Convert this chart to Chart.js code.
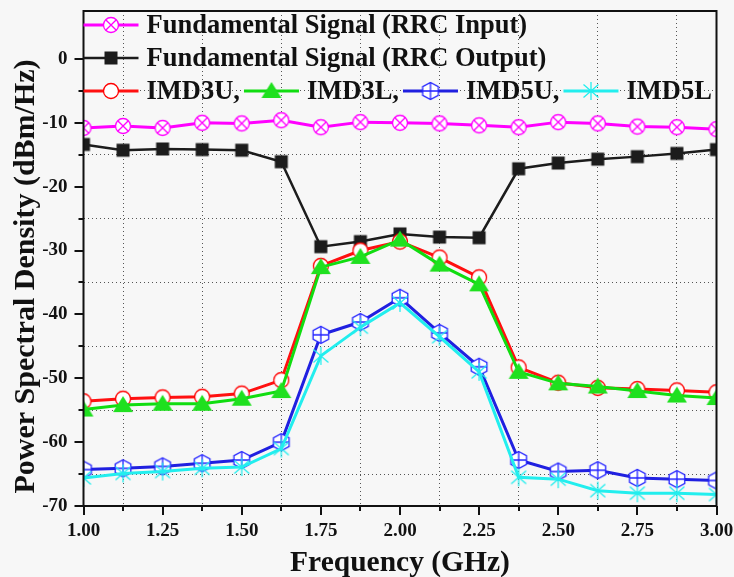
<!DOCTYPE html>
<html>
<head>
<meta charset="utf-8">
<script src="https://cdn.jsdelivr.net/npm/chart.js@4/dist/chart.umd.min.js"></script>
<style>
  html, body { margin: 0; padding: 0; background: #f7f7f7; }
  canvas { display: block; }
</style>
</head>
<body>
<canvas id="myChart" width="734" height="577"></canvas>
<script>
// frequency points (GHz)
var freq = [1.000, 1.125, 1.250, 1.375, 1.500, 1.625, 1.750, 1.875, 2.000,
            2.125, 2.250, 2.375, 2.500, 2.625, 2.750, 2.875, 3.000];

// power spectral density (dBm/Hz)
var rrcInput  = [-10.8, -10.5, -10.8, -10.0, -10.1, -9.6, -10.7, -9.9, -10.0, -10.1, -10.4, -10.7, -9.9, -10.1, -10.6, -10.7, -11.0];
var rrcOutput = [-13.4, -14.3, -14.1, -14.2, -14.3, -16.1, -29.4, -28.6, -27.4, -27.9, -28.0, -17.2, -16.3, -15.7, -15.3, -14.8, -14.2];
var imd3u     = [-53.6, -53.2, -53.0, -52.9, -52.4, -50.3, -32.4, -30.0, -28.6, -31.1, -34.2, -48.3, -50.7, -51.5, -51.7, -51.9, -52.2];
var imd3l     = [-54.9, -54.2, -54.0, -54.0, -53.2, -52.0, -32.6, -31.0, -28.3, -32.2, -35.3, -49.0, -50.8, -51.3, -52.0, -52.7, -53.1];
var imd5u     = [-64.3, -64.1, -63.8, -63.3, -62.8, -60.0, -43.2, -41.2, -37.4, -42.9, -48.2, -62.8, -64.6, -64.4, -65.6, -65.8, -66.0];
var imd5l     = [-65.6, -64.9, -64.6, -64.1, -63.9, -61.0, -46.5, -42.0, -38.2, -43.5, -49.0, -65.5, -65.8, -67.6, -68.0, -68.0, -68.2];

var legendNames = ["Fundamental Signal (RRC Input)", "Fundamental Signal (RRC Output)",
                   "IMD3U,", "IMD3L,", "IMD5U,", "IMD5L"];

var FONT = "'Times New Roman', 'Liberation Serif', serif";

// marker images
function marker(draw) {
  var c = document.createElement("canvas");
  c.width = 26; c.height = 26;
  var g = c.getContext("2d");
  g.translate(13, 13);
  g.lineWidth = 1.3;
  draw(g);
  return c;
}
var mkCrossCircle = marker(function (g) {
  g.fillStyle = "#fff"; g.strokeStyle = "#ff00ff";
  g.beginPath(); g.arc(0, 0, 7.5, 0, Math.PI * 2); g.fill(); g.stroke();
  var d = 7.5 * Math.SQRT1_2;
  g.beginPath(); g.moveTo(-d, -d); g.lineTo(d, d); g.moveTo(-d, d); g.lineTo(d, -d); g.stroke();
});
var mkSquare = marker(function (g) {
  g.fillStyle = "#1c1c1c"; g.fillRect(-6.5, -6.5, 13, 13);
});
var mkCircle = marker(function (g) {
  g.fillStyle = "#fff"; g.strokeStyle = "#ff0000";
  g.beginPath(); g.arc(0, 0, 7.5, 0, Math.PI * 2); g.fill(); g.stroke();
});
var mkTriangle = marker(function (g) {
  g.fillStyle = "#1fe01f";
  g.beginPath(); g.moveTo(0, -9); g.lineTo(10, 7); g.lineTo(-10, 7); g.closePath(); g.fill();
});
var mkHex = marker(function (g) {
  g.fillStyle = "#fff"; g.strokeStyle = "#2020ff";
  g.beginPath();
  g.moveTo(0, -8.5); g.lineTo(7.8, -4.3); g.lineTo(7.8, 4.3);
  g.lineTo(0, 8.5); g.lineTo(-7.8, 4.3); g.lineTo(-7.8, -4.3); g.closePath();
  g.fill(); g.stroke();
  g.beginPath(); g.moveTo(0, -8.5); g.lineTo(0, 8.5); g.moveTo(-7.8, 0); g.lineTo(7.8, 0); g.stroke();
});
var mkStar = marker(function (g) {
  g.strokeStyle = "#22eeee";
  g.beginPath();
  g.moveTo(0, -9); g.lineTo(0, 9);
  g.moveTo(-7.5, -6.5); g.lineTo(7.5, 6.5);
  g.moveTo(-7.5, 6.5); g.lineTo(7.5, -6.5);
  g.stroke();
});

function pts(arr) {
  return arr.map(function (v, i) { return { x: freq[i], y: v }; });
}

function series(label, arr, color, width, img, order) {
  return {
    label: label,
    data: pts(arr),
    borderColor: color,
    backgroundColor: color,
    borderWidth: width,
    pointStyle: img,
    pointRadius: 8,
    tension: 0,
    clip: 0,
    order: order
  };
}

var datasets = [
  series(legendNames[0], rrcInput, "#ff00ff", 3, mkCrossCircle, 6),
  series(legendNames[1], rrcOutput, "#1c1c1c", 2.5, mkSquare, 5),
  series(legendNames[2], imd3u, "#ff1010", 3, mkCircle, 4),
  series(legendNames[3], imd3l, "#10dd10", 3, mkTriangle, 3),
  series(legendNames[4], imd5u, "#2020e0", 3, mkHex, 2),
  series(legendNames[5], imd5l, "#22eeee", 3, mkStar, 1)
];

function isQuarter(v) { return Math.abs(v * 4 - Math.round(v * 4)) < 1e-6; }
function isTen(v) { return Math.abs(v % 10) < 1e-6; }

// box, ticks, titles and legend
var decor = {
  id: "decor",
  afterDraw: function (chart) {
    var ctx = chart.ctx, a = chart.chartArea, x = chart.scales.x, y = chart.scales.y;
    ctx.save();
    ctx.strokeStyle = "#111";
    ctx.lineWidth = 2;
    ctx.beginPath();
    x.ticks.forEach(function (t) {
      var px = Math.round(x.getPixelForValue(t.value));
      var len = isQuarter(t.value) ? 9 : 5;
      ctx.moveTo(px, a.bottom); ctx.lineTo(px, a.bottom + len);
    });
    y.ticks.forEach(function (t) {
      var py = Math.round(y.getPixelForValue(t.value));
      var len = isTen(t.value) ? 9 : 5;
      ctx.moveTo(a.left, py); ctx.lineTo(a.left - len, py);
    });
    ctx.stroke();
    ctx.strokeRect(a.left, a.top, a.right - a.left, a.bottom - a.top);

    // axis titles
    ctx.fillStyle = "#111";
    ctx.textAlign = "center";
    ctx.textBaseline = "middle";
    ctx.font = "bold 29.5px " + FONT;
    ctx.fillText("Frequency (GHz)", (a.left + a.right) / 2, 563);
    ctx.save();
    ctx.translate(26, 276.5);
    ctx.rotate(-Math.PI / 2);
    ctx.font = "bold 30px " + FONT;
    ctx.fillText("Power Spectral Density (dBm/Hz)", 0, 0);
    ctx.restore();

    // legend
    var rows = [[0], [1], [2, 3, 4, 5]];
    var rowY = [25, 58, 91];
    ctx.font = "bold 26.5px " + FONT;
    ctx.textAlign = "left";
    rows.forEach(function (row, r) {
      var cx = a.left;
      row.forEach(function (di) {
        var ds = chart.data.datasets[di];
        var yy = rowY[r];
        ctx.strokeStyle = ds.borderColor;
        ctx.lineWidth = ds.borderWidth;
        ctx.beginPath(); ctx.moveTo(cx, yy); ctx.lineTo(cx + 55, yy); ctx.stroke();
        var img = ds.pointStyle;
        ctx.drawImage(img, cx + 27.5 - img.width / 2, yy - img.height / 2);
        ctx.fillStyle = "#111";
        ctx.fillText(ds.label, cx + 63, yy + 1);
        cx += 63 + ctx.measureText(ds.label).width + 4;
      });
    });
    ctx.restore();
  }
};

var config = {
  type: "line",
  data: { datasets: datasets },
  options: {
    responsive: false,
    animation: false,
    layout: { padding: { top: 10, right: 17.5, left: 0, bottom: 0 } },
    plugins: { legend: { display: false }, tooltip: { enabled: false } },
    scales: {
      x: {
        type: "linear",
        min: 1, max: 3,
        afterFit: function (s) { s.height = 71; s.paddingLeft = 0; s.paddingRight = 0; },
        border: { display: false, dash: [1, 3] },
        grid: {
          color: function (c) { return c.tick && !isQuarter(c.tick.value) ? "#555" : "transparent"; },
          lineWidth: 1,
          tickLength: 9,
          tickColor: "transparent"
        },
        ticks: {
          stepSize: 0.125,
          autoSkip: false,
          maxRotation: 0,
          padding: 5,
          color: "#111",
          font: { family: FONT, size: 19, weight: "bold" },
          callback: function (v) { return isQuarter(v) ? v.toFixed(2) : ""; }
        }
      },
      y: {
        min: -70, max: 7.5,
        afterFit: function (s) { s.width = 83.5; s.paddingTop = 0; s.paddingBottom = 0; },
        afterBuildTicks: function (s) {
          s.ticks = s.ticks.filter(function (t) { return Math.abs(t.value % 5) < 1e-6; });
        },
        border: { display: false, dash: [1, 3] },
        grid: {
          color: function (c) { return c.tick && !isTen(c.tick.value) ? "#555" : "transparent"; },
          lineWidth: 1,
          tickLength: 9,
          tickColor: "transparent"
        },
        ticks: {
          stepSize: 5,
          padding: 7,
          color: "#111",
          font: { family: FONT, size: 19, weight: "bold" },
          callback: function (v) { return isTen(v) ? String(v) : ""; }
        }
      }
    }
  },
  plugins: [decor]
};

const myChart = new Chart(document.getElementById("myChart"), config);
</script>
</body>
</html>
